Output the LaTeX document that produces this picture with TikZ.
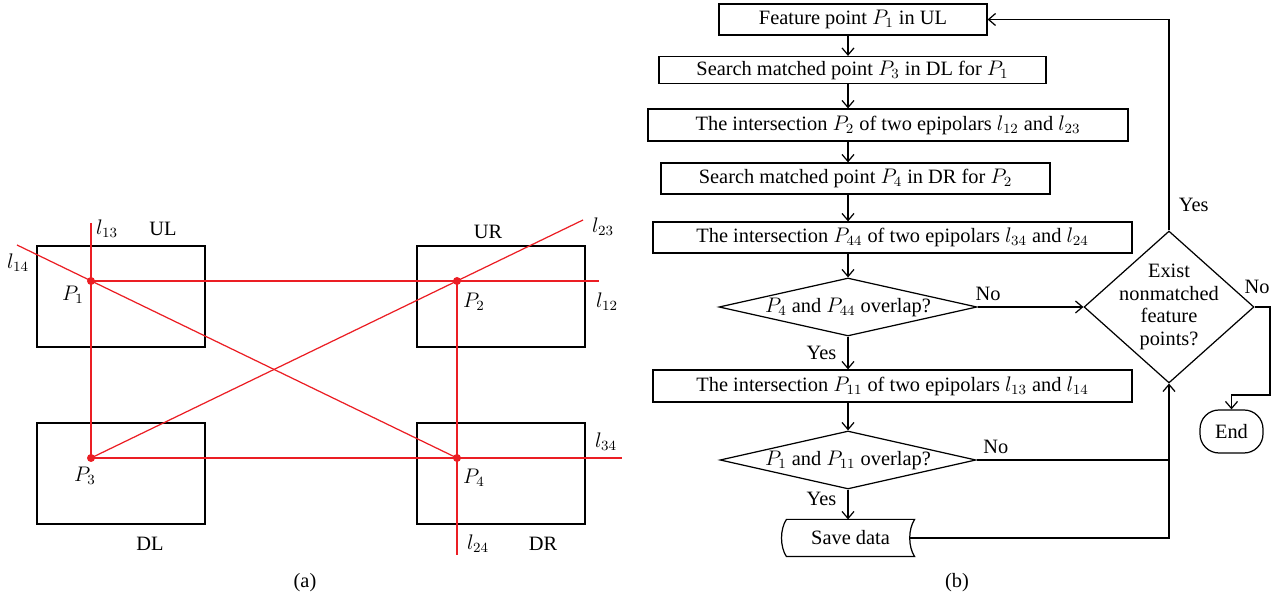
\documentclass[tikz,border=0pt]{standalone}
\usepackage{amsmath}
\usepackage{fontspec}
\setmainfont{Liberation Serif}
\usepackage{tikz}
\usetikzlibrary{arrows.meta}
\usetikzlibrary{calc,positioning}
\usetikzlibrary{shapes.geometric}

\definecolor{epired}{RGB}{235,30,36}

\tikzset{
    box/.style={draw, line width=0.7pt, inner sep=0pt},
    test/.style={draw, diamond, line width=0.7pt, inner sep=0pt, aspect=4.4},
    epi/.style={epired, line width=0.7pt},
}

\begin{document}
\begin{tikzpicture}[>={Straight Barb[length=1.4mm,width=2.4mm]}, x=0.02cm, y=0.02cm,
    font=\fontsize{11.6}{12.9}\selectfont, line width=0.7pt]
    \useasboundingbox (0,0) rectangle (1278,601);

    % (a) four views and the epipolar lines
    \draw (37,254) rectangle (205,355);
    \draw (417,254) rectangle (585,355);
    \draw (37,77) rectangle (205,178);
    \draw (417,77) rectangle (585,178);

    \coordinate (P1) at (91,320);
    \coordinate (P2) at (457,320);
    \coordinate (P3) at (91,143);
    \coordinate (P4) at (457,143);

    \draw[epi] (91,378) coordinate (e13) -- (P3);
    \draw[epi] (17,356) coordinate (e14) -- (P4);
    \draw[epi] (P3) -- (583,381) coordinate (e23);
    \draw[epi] (P1) -- (599,320) coordinate (e12);
    \draw[epi] (P3) -- (622,143) coordinate (e34);
    \draw[epi] (P2) -- (457,46) coordinate (e24);
    \foreach \p in {P1,P2,P3,P4}
        \fill[epired] (\p) circle (4);

    \node (l13) at (107,372) {$l_{13}$};
    \node (ul) at (163,372) {UL};
    \node (l14) at (18,338) {$l_{14}$};
    \node (p1) at (73,306) {$P_1$};
    \node (ur) at (488,369) {UR};
    \node (l23) at (603,374) {$l_{23}$};
    \node (p2) at (474,299) {$P_2$};
    \node (l12) at (607,299) {$l_{12}$};
    \node (l34) at (606,159) {$l_{34}$};
    \node (p3) at (85,125) {$P_3$};
    \node (p4) at (474,123) {$P_4$};
    \node (l24) at (478,57) {$l_{24}$};
    \node (dl) at (150,57) {DL};
    \node (dr) at (543,57) {DR};
    \node (capa) at (305,18) {(a)};

    % (b) flowchart
    \coordinate (axis) at (848,0);
    \node[box, minimum width=5.36cm, minimum height=0.62cm] (feat) at (853,581.5) {Feature point $P_1$ in UL};
    \node[box, minimum width=7.74cm, minimum height=0.54cm] (srch3) at (852.5,531) {Search matched point $P_3$ in DL for $P_1$};
    \node[box, minimum width=9.6cm, minimum height=0.64cm] (int2) at (888,476) {The intersection $P_2$ of two epipolars $l_{12}$ and $l_{23}$};
    \node[box, minimum width=7.78cm, minimum height=0.62cm] (srch4) at (855.5,422.5) {Search matched point $P_4$ in DR for $P_2$};
    \node[box, minimum width=9.58cm, minimum height=0.62cm] (int44) at (892.5,363.5) {The intersection $P_{44}$ of two epipolars $l_{34}$ and $l_{24}$};
    \node[test, minimum width=5.16cm, minimum height=1.16cm] (ovl4) at (848,294) {$P_4$ and $P_{44}$ overlap?};
    \node[box, minimum width=9.58cm, minimum height=0.64cm] (int11) at (892.5,215) {The intersection $P_{11}$ of two epipolars $l_{13}$ and $l_{14}$};
    \node[test, minimum width=5.12cm, minimum height=1.16cm] (ovl1) at (848,141) {$P_1$ and $P_{11}$ overlap?};
    \node[inner sep=0pt, minimum width=2.54cm, minimum height=0.72cm] (save) at (850.5,63) {Save data};
    \draw (save.north west) -- (save.north east)
        .. controls +(-6.5,-10) and +(-6.5,10) .. (save.south east) -- (save.south west)
        .. controls +(-6.5,10) and +(-6.5,-10) .. cycle;
    \node[test, aspect=1.1, minimum width=3.4cm, minimum height=3.04cm] (more) at (1169,294) {};
    \node[align=center, inner sep=0pt] (moretxt) at (more) {Exist\\nonmatched\\feature\\points?};
    \node[box, rounded corners=0.38cm, minimum width=1.26cm, minimum height=0.86cm] (end) at (1231.5,169.5) {End};

    \foreach \a/\b in {feat/srch3, srch3/int2, int2/srch4, srch4/int44, int44/ovl4, int11/ovl1}
        \draw[->] (\a.south -| axis) -- (\b.north -| axis);
    \draw[->] (ovl4.south) -- node[left=3pt] (yes1) {Yes} (int11.north -| axis);
    \draw[->] (ovl1.south) -- node[pos=0.3, left=3pt] (yes2) {Yes} (save.north -| axis);
    \draw[->] (ovl4.east) -- node[pos=0.1, above] (no1) {No} (more.west);
    \draw (ovl1.east) -- node[pos=0.1, above] (no2) {No} (ovl1.east -| more.south);
    \draw[->] ($(save.east)+(-5,0)$) -| (more.south);
    \draw[->] (more.north) |- node[pos=0.06, right=2pt] (yes3) {Yes} (feat.east);
    \draw[->] (more.east) -| (1270,206) coordinate (bend) -| (end.north);
    \node (no3) at (1257,314) {No};
    \node (capb) at (957,18) {(b)};
\end{tikzpicture}
\end{document}
